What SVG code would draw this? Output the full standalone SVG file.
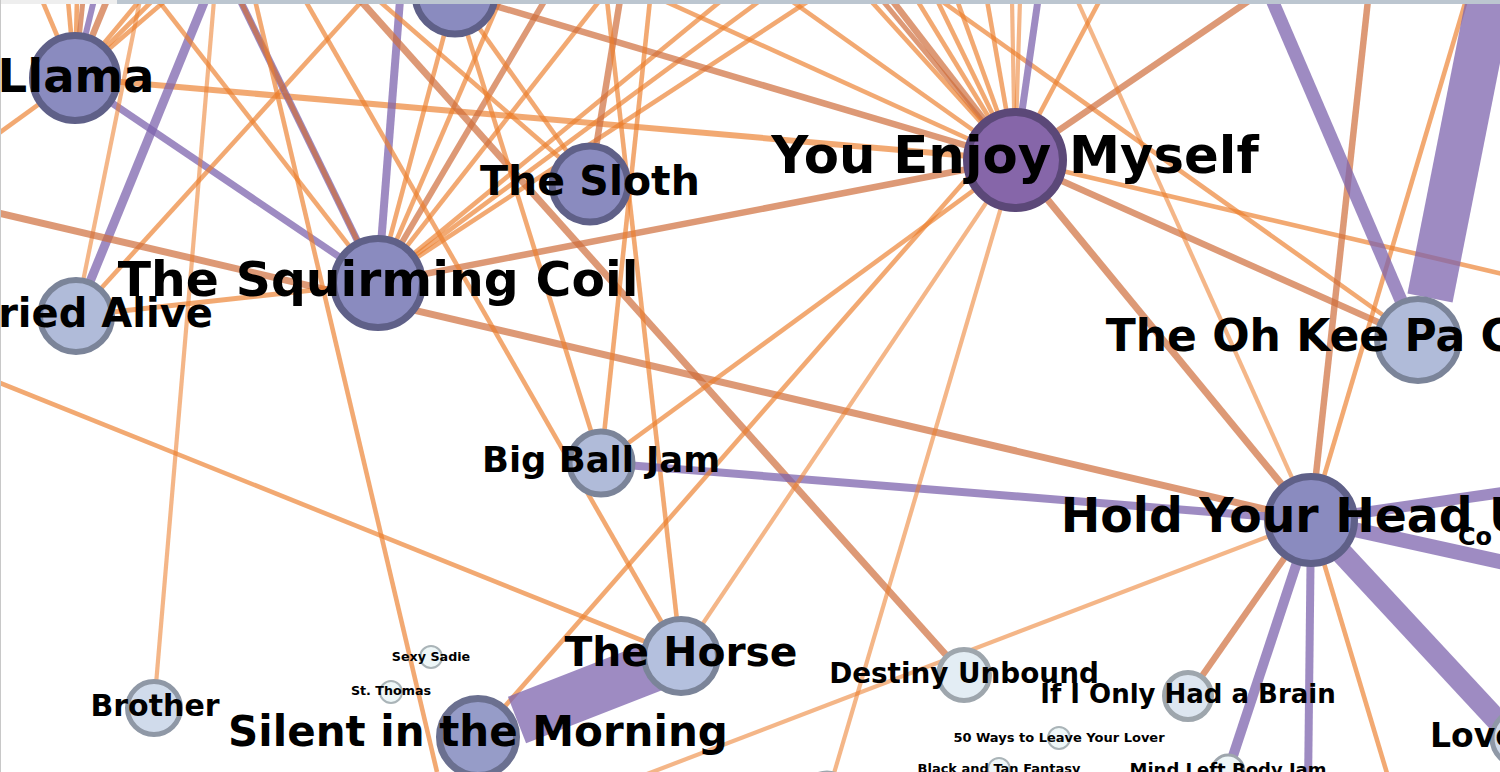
<svg xmlns="http://www.w3.org/2000/svg" width="1500" height="772" viewBox="0 0 1500 772">
<style>
.bg{fill:#ffffff}
#edges line{fill:none;stroke-linecap:butt}
.o{stroke:#ec7f2d;stroke-opacity:.67;stroke-width:4.6}
.ol{stroke:#ec7f2d;stroke-opacity:.57;stroke-width:4.2}
.b{stroke:#cf6e3c;stroke-opacity:.7;stroke-width:6.5}
.p{stroke:#7d64ae;stroke-opacity:.75}
.lbl{font-family:"DejaVu Sans","Liberation Sans",sans-serif;font-weight:bold;fill:#000;text-anchor:middle}
.n1{fill:#8a8bbf;stroke:#5f6088;stroke-width:7}
.ny{fill:#8666a9;stroke:#5b4878;stroke-width:8}
.n2{fill:#b0bbd9;stroke:#7b8499;stroke-width:6}
.nh{fill:#b4c0de;stroke:#7b8499;stroke-width:6}
.ns{fill:#969cc8;stroke:#6b7090;stroke-width:7}
.n3{fill:#d0dbeb;stroke:#8f98a6;stroke-width:5}
.n4{fill:#e3edf4;stroke:#9ea6ad;stroke-width:5}
.n5{fill:#eef7f8;stroke:#aab4b8;stroke-width:2}
</style>
<rect class="bg" x="0" y="0" width="1500" height="772"/>
<g id="edges">
<!-- Llama -->
<line class="o" x1="75" y1="78" x2="42" y2="0"/>
<line class="o" x1="75" y1="78" x2="68" y2="0"/>
<line class="o" x1="75" y1="78" x2="77" y2="0"/>
<line class="b" style="stroke-width:5" x1="75" y1="78" x2="83" y2="0"/>
<line class="p" style="stroke-width:6" x1="75" y1="78" x2="94" y2="0"/>
<line class="b" x1="75" y1="78" x2="107" y2="0"/>
<line class="o" x1="75" y1="78" x2="140" y2="0"/>
<line class="o" x1="75" y1="78" x2="153" y2="0"/>
<line class="o" x1="75" y1="78" x2="166" y2="0"/>
<line class="o" x1="75" y1="78" x2="-5" y2="136"/>
<line class="o" style="stroke-width:6" x1="75" y1="78" x2="1015" y2="160"/>
<line class="p" style="stroke-width:7" x1="75" y1="78" x2="378" y2="283"/>
<!-- Buried Alive -->
<line class="p" style="stroke-width:9" x1="76" y1="316" x2="205" y2="0"/>
<line class="ol" x1="76" y1="316" x2="140" y2="0"/>
<line class="o" x1="76" y1="316" x2="363" y2="0"/>
<line class="o" style="stroke-width:5" x1="76" y1="316" x2="378" y2="283"/>
<!-- Squirming Coil -->
<line class="p" style="stroke-width:8" x1="378" y1="283" x2="400" y2="0"/>
<line class="p" style="stroke-width:7" x1="378" y1="283" x2="240" y2="0"/>
<line class="b" style="stroke-width:5" x1="378" y1="283" x2="240" y2="0"/>
<line class="o" x1="378" y1="283" x2="158" y2="0"/>
<line class="o" x1="378" y1="283" x2="455" y2="-6"/>
<line class="o" x1="378" y1="283" x2="500" y2="0"/>
<line class="b" style="stroke-width:6" x1="378" y1="283" x2="545" y2="0"/>
<line class="o" x1="378" y1="283" x2="600" y2="0"/>
<line class="o" x1="378" y1="283" x2="722" y2="0"/>
<line class="o" x1="378" y1="283" x2="761" y2="0"/>
<line class="o" x1="378" y1="283" x2="810" y2="0"/>
<line class="b" x1="378" y1="283" x2="1015" y2="160"/>
<line class="b" style="stroke-width:7" x1="-10" y1="211" x2="1311" y2="520"/>
<!-- misc left -->
<line class="o" x1="255" y1="0" x2="437" y2="772"/>
<line class="ol" x1="154" y1="708" x2="214" y2="0"/>
<line class="o" x1="0" y1="383" x2="681" y2="656"/>
<line class="o" x1="305" y1="0" x2="681" y2="656"/>
<line class="b" style="stroke-width:7" x1="360" y1="0" x2="964" y2="675"/>
<line class="o" x1="378" y1="0" x2="590" y2="184"/>
<line class="o" x1="455" y1="-6" x2="590" y2="184"/>
<line class="o" x1="455" y1="-6" x2="601" y2="463"/>
<line class="b" x1="455" y1="-6" x2="1015" y2="160"/>
<line class="b" x1="620" y1="0" x2="590" y2="184"/>
<line class="o" x1="650" y1="0" x2="601" y2="463"/>
<line class="o" x1="607" y1="0" x2="681" y2="656"/>
<!-- middle -->
<line class="o" x1="601" y1="463" x2="1015" y2="160"/>
<line class="p" style="stroke-width:8" x1="601" y1="463" x2="1311" y2="520"/>
<line class="o" x1="478" y1="737" x2="1005" y2="135"/>
<line class="ol" x1="681" y1="656" x2="1015" y2="160"/>
<line class="ol" x1="827" y1="797" x2="1015" y2="160"/>
<line class="p" style="stroke-width:50" x1="517" y1="720" x2="681" y2="656"/>
<!-- YEM fan -->
<line class="o" x1="940" y1="0" x2="1418" y2="340"/>
<line class="b" x1="1015" y1="160" x2="1418" y2="340"/>
<line class="b" style="stroke-width:7" x1="1015" y1="160" x2="1311" y2="520"/>
<line class="o" x1="1015" y1="160" x2="1520" y2="278"/>
<line class="b" x1="1015" y1="160" x2="1250" y2="0"/>
<line class="o" x1="1015" y1="160" x2="1100" y2="0"/>
<line class="p" style="stroke-width:7" x1="1015" y1="160" x2="1038" y2="0"/>
<line class="o" x1="1015" y1="160" x2="987" y2="0"/>
<line class="ol" x1="1015" y1="160" x2="1012" y2="0"/>
<line class="ol" x1="1015" y1="160" x2="1020" y2="0"/>
<line class="o" x1="1015" y1="160" x2="957" y2="0"/>
<line class="o" x1="1015" y1="160" x2="937" y2="0"/>
<line class="o" x1="1015" y1="160" x2="917" y2="0"/>
<line class="b" x1="1015" y1="160" x2="892" y2="0"/>
<line class="b" style="stroke-width:5" x1="1015" y1="160" x2="882" y2="0"/>
<line class="o" x1="1015" y1="160" x2="870" y2="0"/>
<line class="o" x1="1015" y1="160" x2="790" y2="0"/>
<line class="o" x1="1015" y1="160" x2="662" y2="0"/>
<!-- right -->
<line class="ol" x1="1077" y1="0" x2="1311" y2="520"/>
<line class="b" x1="1368" y1="0" x2="1311" y2="520"/>
<line class="o" x1="1466" y1="0" x2="1311" y2="520"/>
<line class="p" style="stroke-width:13" x1="1272" y1="0" x2="1418" y2="340"/>
<line class="p" style="stroke-width:46" x1="1430" y1="298" x2="1490" y2="-5"/>
<line class="p" style="stroke-width:11" x1="1311" y1="520" x2="1520" y2="490"/>
<line class="p" style="stroke-width:15" x1="1311" y1="520" x2="1520" y2="566"/>
<line class="p" style="stroke-width:22" x1="1311" y1="520" x2="1520" y2="745"/>
<line class="p" style="stroke-width:10" x1="1311" y1="520" x2="1228" y2="771"/>
<line class="p" style="stroke-width:8" x1="1311" y1="520" x2="1308" y2="790"/>
<line class="o" x1="1311" y1="520" x2="1392" y2="790"/>
<line class="b" x1="1311" y1="520" x2="1188" y2="696"/>
<line class="ol" x1="1311" y1="520" x2="600" y2="792"/>
</g>
<g id="node-top"><circle class="n1" cx="455" cy="-6" r="40"/></g>
<g id="node-co"><text class="lbl" style="text-anchor:start" x="1458" y="545" font-size="24">Co</text></g>
<g id="node-llama"><circle class="n1" cx="75" cy="78" r="42.5"/><text class="lbl" x="76" y="92" font-size="46.5">Llama</text></g>
<g id="node-sloth"><circle class="n1" cx="590" cy="184" r="38"/><text class="lbl" x="590" y="195" font-size="41">The Sloth</text></g>
<g id="node-buried"><circle class="n2" cx="76" cy="316" r="36"/><text class="lbl" x="76" y="327" font-size="40">Buried Alive</text></g>
<g id="node-coil"><circle class="n1" cx="378" cy="283" r="44.5"/><text class="lbl" x="378" y="296" font-size="48.8">The Squirming Coil</text></g>
<g id="node-yem"><circle class="ny" cx="1015" cy="160" r="48"/><text class="lbl" x="1015" y="173" font-size="51.3">You Enjoy Myself</text></g>
<g id="node-okp"><circle class="n2" cx="1418" cy="340" r="41"/><text class="lbl" x="1418" y="351" font-size="44">The Oh Kee Pa Ceremony</text></g>
<g id="node-bbj"><circle class="n2" cx="601" cy="463" r="31.5"/><text class="lbl" x="601" y="472" font-size="35.4">Big Ball Jam</text></g>
<g id="node-hyhu"><circle class="n1" cx="1311" cy="520" r="43.5"/><text class="lbl" x="1311" y="532" font-size="47.3">Hold Your Head Up</text></g>
<g id="node-horse"><circle class="nh" cx="681" cy="656" r="37"/><text class="lbl" x="681" y="666" font-size="40.8">The Horse</text></g>
<g id="node-brother"><circle class="n3" cx="154" cy="708" r="26.5"/><text class="lbl" x="155" y="716" font-size="30">Brother</text></g>
<g id="node-sexy"><circle class="n5" cx="431" cy="657" r="11"/><text class="lbl" x="431" y="661" font-size="12.7">Sexy Sadie</text></g>
<g id="node-stthomas"><circle class="n5" cx="391" cy="692" r="11"/><text class="lbl" x="391" y="695" font-size="12.7">St. Thomas</text></g>
<g id="node-silent"><circle class="ns" cx="478" cy="737" r="38.5"/><text class="lbl" x="478" y="746" font-size="42">Silent in the Morning</text></g>
<g id="node-bottom"><circle class="n4" cx="827" cy="797" r="24"/></g>
<g id="node-destiny"><circle class="n4" cx="964" cy="675" r="25.5"/><text class="lbl" x="964" y="683" font-size="27.8">Destiny Unbound</text></g>
<g id="node-brain"><circle class="n4" style="fill:#dde6f0" cx="1188" cy="696" r="23.5"/><text class="lbl" x="1188" y="703" font-size="26">If I Only Had a Brain</text></g>
<g id="node-50ways"><circle class="n5" cx="1059" cy="738" r="11"/><text class="lbl" x="1059" y="742" font-size="13">50 Ways to Leave Your Lover</text></g>
<g id="node-blacktan"><circle class="n5" cx="999" cy="769" r="11"/><text class="lbl" x="999" y="773" font-size="13">Black and Tan Fantasy</text></g>
<g id="node-mlbj"><circle class="n4" style="fill:#eef6f8;stroke-width:3" cx="1228" cy="771" r="16"/><text class="lbl" x="1228" y="776" font-size="18">Mind Left Body Jam</text></g>
<g id="node-love"><circle class="n3" cx="1520" cy="738" r="28"/><text class="lbl" style="text-anchor:start" x="1430" y="747" font-size="33">Love</text></g>
<rect x="0" y="0" width="117" height="4" fill="#eeeeee"/>
<rect x="117" y="0" width="1383" height="4" fill="#bcc6d0"/>
<rect x="0" y="0" width="1" height="772" fill="#c8c8c8"/>
</svg>
